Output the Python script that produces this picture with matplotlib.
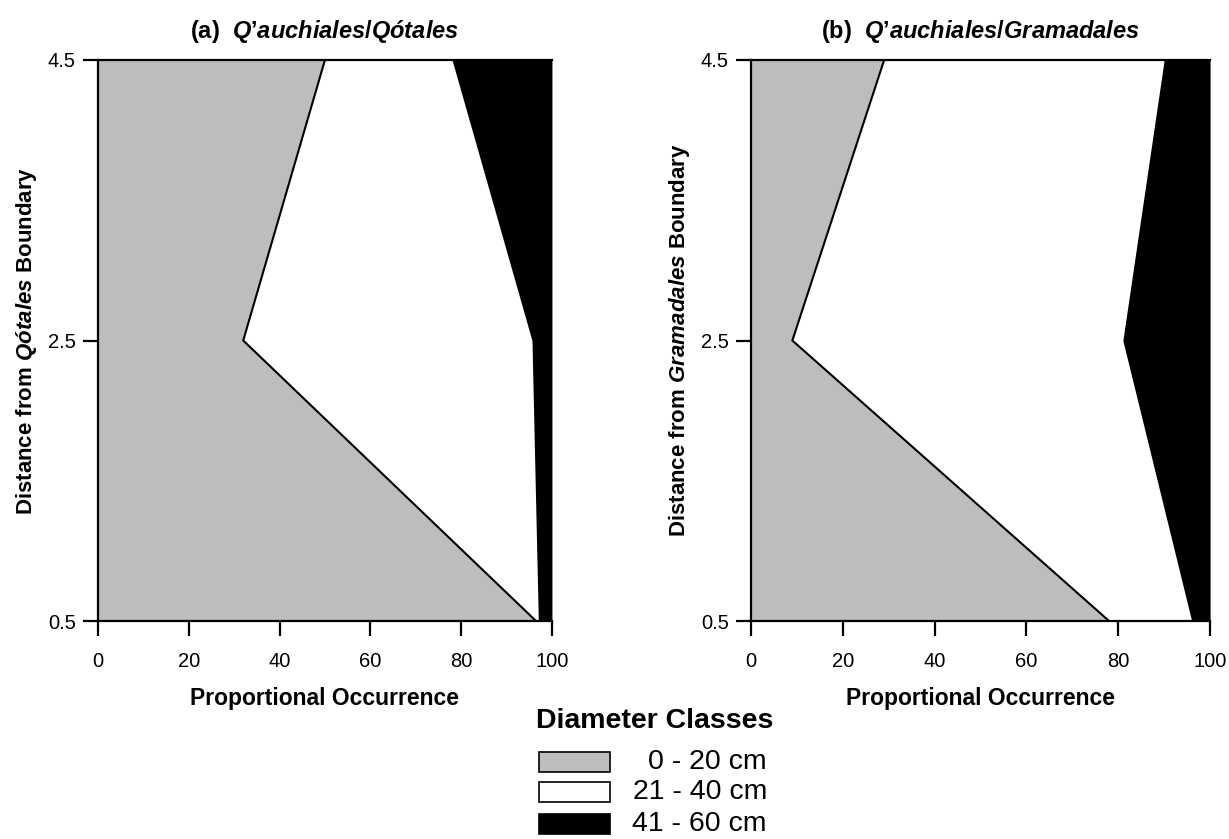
import matplotlib
matplotlib.use("Agg")
import matplotlib.pyplot as plt
import numpy as np
from matplotlib.patches import Rectangle

plt.rcParams['font.family'] = ['Liberation Sans', 'DejaVu Sans']
plt.rcParams['mathtext.fontset'] = 'custom'
plt.rcParams['mathtext.it'] = 'Liberation Sans:italic:bold'
plt.rcParams['mathtext.rm'] = 'Liberation Sans:bold'
plt.rcParams['mathtext.bf'] = 'Liberation Sans:bold'

# distance from boundary (y axis)
dist = [0.5, 2.5, 4.5]

# proportional occurrence (%) per diameter class, panel (a)
a_small = [96.5, 32, 50]
a_mid = [0.5, 63.6, 28]
a_large = [3, 4.4, 22]

# panel (b)
b_small = [78, 9, 29]
b_mid = [18, 72, 61]
b_large = [4, 19, 10]

class_labels = ['0 - 20 cm', '21 - 40 cm', '41 - 60 cm']
class_colors = ['#bdbdbd', 'white', 'black']

titles = ["(a)  $Q’auchiales/Qótales$", "(b)  $Q’auchiales/Gramadales$"]
ylabels = ["Distance from $Qótales$ Boundary", "Distance from $Gramadales$ Boundary"]

fig = plt.figure(figsize=(12.29, 8.39), dpi=100)
ax_a = fig.add_axes([0.0797, 0.2598, 0.3694, 0.6687])
ax_b = fig.add_axes([0.6111, 0.2598, 0.3735, 0.6687])


def draw_panel(ax, small, mid, large, title, ylabel):
    small = np.array(small, dtype=float)
    c1 = small
    c2 = small + np.array(mid)
    c3 = c2 + np.array(large)
    ax.fill_betweenx(dist, 0, c1, color=class_colors[0], lw=0)
    ax.fill_betweenx(dist, c1, c2, color=class_colors[1], lw=0)
    ax.fill_betweenx(dist, c2, c3, color=class_colors[2], lw=0)
    ax.plot(c1, dist, color='black', lw=1.5, solid_joinstyle='miter')
    ax.set_xlim(0, 100)
    ax.set_ylim(0.5, 4.5)
    ax.set_xticks(range(0, 101, 20))
    ax.set_yticks(dist)
    ax.set_yticklabels(['0.5', '2.5', '4.5'])
    for s in ['left', 'bottom', 'top']:
        ax.spines[s].set_linewidth(1.6)
    ax.spines['right'].set_visible(False)
    ax.tick_params(direction='out', length=11, width=1.6, labelsize=14.5, pad=5)
    ax.tick_params(axis='x', pad=11)
    ax.set_title(title, fontsize=17, fontweight='bold', pad=16)
    ax.set_xlabel('Proportional Occurrence', fontsize=16.5, fontweight='bold', labelpad=12)
    ax.set_ylabel(ylabel, fontsize=16, fontweight='bold', labelpad=6)


draw_panel(ax_a, a_small, a_mid, a_large, titles[0], ylabels[0])
draw_panel(ax_b, b_small, b_mid, b_large, titles[1], ylabels[1])

# legend
fig.text(536 / 1229, 1 - 721 / 839, 'Diameter Classes', fontsize=20.5, fontweight='bold',
         va='center', ha='left')
rows_y = [762, 792, 824]
for lab, col, yc in zip(class_labels, class_colors, rows_y):
    fig.patches.append(Rectangle((539 / 1229, 1 - (yc + 10) / 839), 71 / 1229, 20 / 839,
                                 transform=fig.transFigure, facecolor=col,
                                 edgecolor='black', lw=1.2))
    fig.text(767 / 1229, 1 - yc / 839, lab, fontsize=20.5, ha='right', va='center')

fig.savefig('out.png', dpi=100)
